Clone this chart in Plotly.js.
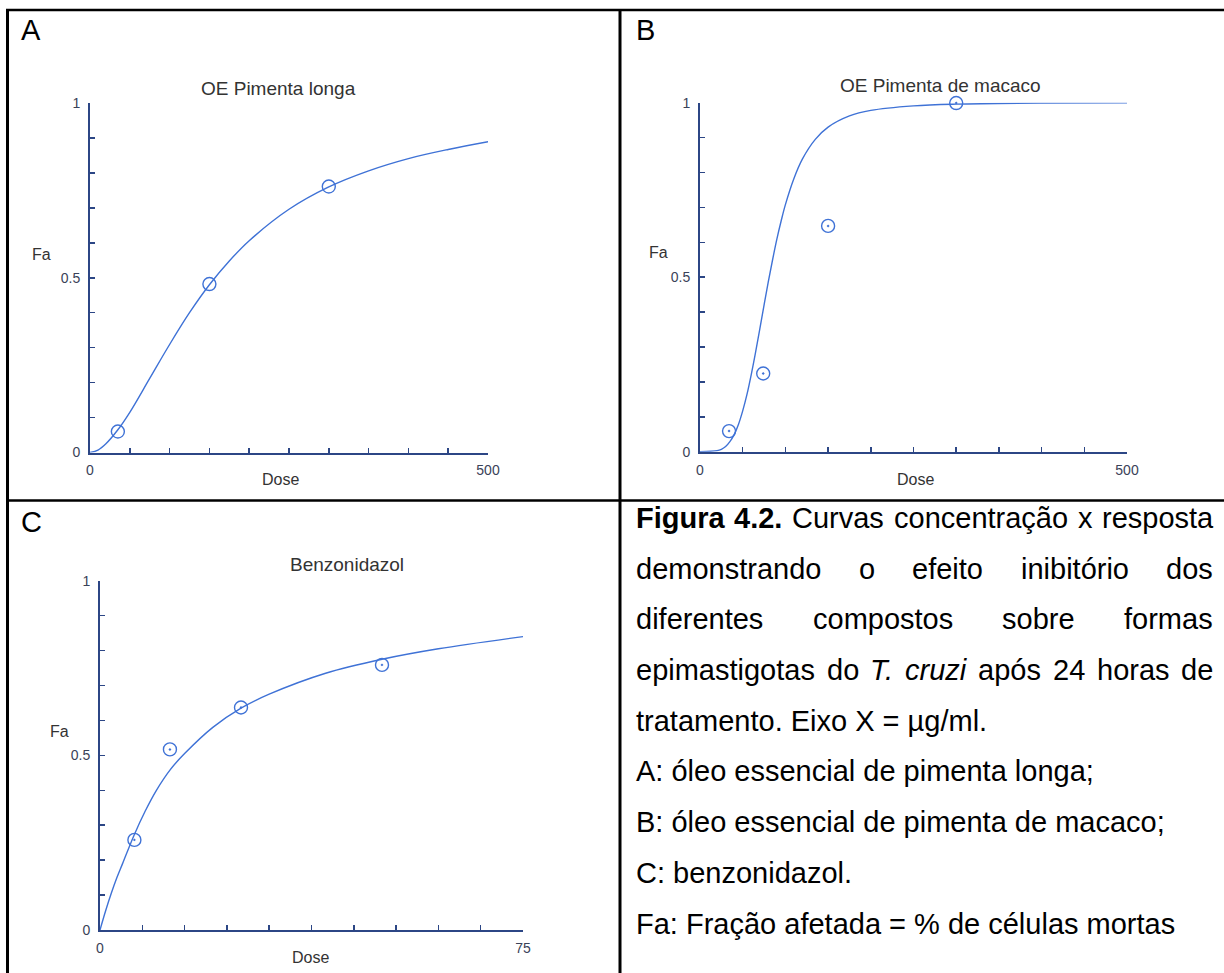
<!DOCTYPE html>
<html>
<head>
<meta charset="utf-8">
<script src="https://cdn.plot.ly/plotly-3.0.1.min.js"></script>
<style>html,body{margin:0;padding:0;background:#fff}#chart{width:1224px;height:973px}</style>
</head>
<body>
<div id="chart"></div>
<script>
// ---------------- DATA ----------------
// Panel A: OE Pimenta longa
const aPointDose = [35, 150, 300];
const aPointFa   = [0.06, 0.482, 0.761];
const aCurveDose = [0, 10, 20, 35, 50, 75, 100, 125, 150, 175, 200, 250, 300, 350, 400, 450, 500];
const aCurveFa   = [0, 0.007, 0.025, 0.065, 0.115, 0.212, 0.309, 0.400, 0.480, 0.548, 0.606, 0.696, 0.760, 0.806, 0.841, 0.867, 0.889];

// Panel B: OE Pimenta de macaco
const bPointDose = [34, 74, 150, 300];
const bPointFa   = [0.059, 0.224, 0.647, 0.999];
const bCurveDose = [0, 20, 25, 30, 35, 40, 45, 50, 55, 60, 65, 70, 75, 80, 85, 90, 95, 100, 110, 120, 135, 150, 175, 200, 250, 300, 400, 500];
const bCurveFa   = [0, 0.003, 0.007, 0.015, 0.029, 0.049, 0.078, 0.117, 0.164, 0.221, 0.284, 0.351, 0.420, 0.487, 0.550, 0.609, 0.661, 0.708, 0.783, 0.839, 0.895, 0.930, 0.962, 0.978, 0.991, 0.996, 0.999, 0.9995];

// Panel C: Benzonidazol
const cPointDose = [6.1, 12.4, 25, 50];
const cPointFa   = [0.258, 0.517, 0.637, 0.759];
const cCurveDose = [0, 1, 2, 3, 4, 6, 8, 10, 12.5, 15, 20, 25, 30, 40, 50, 60, 75];
const cCurveFa   = [0, 0.055, 0.105, 0.150, 0.190, 0.270, 0.340, 0.400, 0.460, 0.505, 0.580, 0.635, 0.675, 0.735, 0.775, 0.805, 0.840];

// Tick labels
const faTickVals = [0, 0.5, 1];
const faTickText = ['0', '0.5', '1'];
const abDoseTickVals = [0, 500];
const abDoseTickText = ['0', '500'];
const cDoseTickVals = [0, 75];
const cDoseTickText = ['0', '75'];

// Texts
const panelTitles = ['OE Pimenta longa', 'OE Pimenta de macaco', 'Benzonidazol'];
const panelLetters = ['A', 'B', 'C'];
const captionLines = [
  [{t:'Figura', b:1}, {t:'4.2.', b:1}, {t:'Curvas'}, {t:'concentração'}, {t:'x'}, {t:'resposta'}],
  [{t:'demonstrando'}, {t:'o'}, {t:'efeito'}, {t:'inibitório'}, {t:'dos'}],
  [{t:'diferentes'}, {t:'compostos'}, {t:'sobre'}, {t:'formas'}],
  [{t:'epimastigotas'}, {t:'do'}, {t:'T.', i:1}, {t:'cruzi', i:1}, {t:'após'}, {t:'24'}, {t:'horas'}, {t:'de'}],
  'tratamento. Eixo X = µg/ml.',
  'A: óleo essencial de pimenta longa;',
  'B: óleo essencial de pimenta de macaco;',
  'C: benzonidazol.',
  'Fa: Fração afetada = % de células mortas'
];

// ---------------- LAYOUT HELPERS ----------------
const W = 1224, H = 973;
const fx = x => x / W;
const fy = y => 1 - y / H;
const FONT = '"Liberation Sans", Arial, sans-serif';
const CURVE = '#3f72d6';
const AXIS = '#2c4685';
const TICKTXT = '#3a4258';
const GREY = '#333333';

const annotations = [];
function txt(text, x, baseline, size, color, xanchor) {
  annotations.push({
    xref: 'paper', yref: 'paper', x: fx(x), y: fy(baseline - 0.3465 * size),
    xanchor: xanchor || 'center', yanchor: 'middle', showarrow: false,
    borderpad: 0, borderwidth: 0,
    text: text, font: {family: FONT, size: size, color: color}
  });
}

// Panel letters
txt(panelLetters[0], 21, 40, 29, '#000', 'left');
txt(panelLetters[1], 636, 40, 29, '#000', 'left');
txt(panelLetters[2], 21, 532, 29, '#000', 'left');

// Panel titles and axis name labels
txt(panelTitles[0], 278, 95, 19, GREY);
txt(panelTitles[1], 940, 92, 19, GREY);
txt(panelTitles[2], 347, 571, 19, GREY);
txt('Fa', 41, 260, 16, GREY);
txt('Fa', 658, 258, 16, GREY);
txt('Fa', 59, 737, 16, GREY);
txt('Dose', 280, 485, 16, GREY);
txt('Dose', 915, 485, 16, GREY);
txt('Dose', 310, 963, 16, GREY);

// Caption (justified lines measured with canvas)
const CAP = 29, capLeft = 636, capRight = 1213, capBase0 = 528, capStep = 50.7;
const ctx = document.createElement('canvas').getContext('2d');
function wWidth(w) {
  ctx.font = (w.i ? 'italic ' : 'normal ') + (w.b ? 'bold ' : 'normal ') + CAP + 'px "Liberation Sans"';
  return ctx.measureText(w.t).width;
}
captionLines.forEach((line, k) => {
  const base = capBase0 + k * capStep;
  if (typeof line === 'string') { txt(line, capLeft, base, CAP, '#000', 'left'); return; }
  const widths = line.map(wWidth);
  const total = widths.reduce((s, v) => s + v, 0);
  const gap = (capRight - capLeft - total) / (line.length - 1);
  let x = capLeft;
  line.forEach((w, j) => {
    let t = w.t;
    if (w.b) t = '<b>' + t + '</b>';
    if (w.i) t = '<i>' + t + '</i>';
    txt(t, x, base, CAP, '#000', 'left');
    x += widths[j] + gap;
  });
});

// Table border lines
const shapes = [];
function seg(x0, y0, x1, y1, w) {
  shapes.push({type: 'line', xref: 'paper', yref: 'paper', x0: fx(x0), y0: fy(y0), x1: fx(x1), y1: fy(y1),
    line: {color: '#000', width: w}});
}
seg(7.5, 9, 7.5, 973, 3);
seg(6, 10, 1224, 10, 2.5);
seg(620, 9, 620, 973, 3);
seg(6, 500.5, 1224, 500.5, 2.5);

// ---------------- TRACES ----------------
function curve(x, y, xa, ya) {
  return {x: x, y: y, xaxis: xa, yaxis: ya, type: 'scatter', mode: 'lines',
    line: {color: CURVE, width: 1.4, shape: 'spline', smoothing: 1}, hoverinfo: 'skip', cliponaxis: false};
}
function pts(x, y, xa, ya, sym) {
  return {x: x, y: y, xaxis: xa, yaxis: ya, type: 'scatter', mode: 'markers', cliponaxis: false,
    marker: {symbol: sym, size: 13, color: CURVE, line: {color: CURVE, width: 1.4}}, hoverinfo: 'skip'};
}
const data = [
  curve(aCurveDose, aCurveFa, 'x', 'y'), pts(aPointDose, aPointFa, 'x', 'y', 'circle-open'),
  curve(bCurveDose, bCurveFa, 'x2', 'y2'), pts(bPointDose, bPointFa, 'x2', 'y2', 'circle-open-dot'),
  curve(cCurveDose, cCurveFa, 'x3', 'y3'), pts(cPointDose, cPointFa, 'x3', 'y3', 'circle-open-dot')
];

function xAxis(px0, px1, anchor, range, vals, text, minorStep) {
  return {domain: [fx(px0), fx(px1)], anchor: anchor, range: range, showline: true, linecolor: AXIS, linewidth: 2,
    showgrid: false, zeroline: false, ticks: 'inside', ticklen: 5, tickwidth: 1.5, tickcolor: AXIS,
    tickmode: 'array', tickvals: vals, ticktext: text, ticklabelstandoff: 4,
    tickfont: {family: FONT, size: 14, color: TICKTXT},
    minor: {tick0: 0, dtick: minorStep, ticks: 'inside', ticklen: 5, tickwidth: 1.5, tickcolor: AXIS, showgrid: false},
    fixedrange: true};
}
function yAxis(py0, py1, anchor) {
  return {domain: [fy(py0), fy(py1)], anchor: anchor, range: [0, 1], showline: true, linecolor: AXIS, linewidth: 2,
    showgrid: false, zeroline: false, ticks: 'inside', ticklen: 5, tickwidth: 1.5, tickcolor: AXIS,
    tickmode: 'array', tickvals: faTickVals, ticktext: faTickText, ticklabelstandoff: 5,
    tickfont: {family: FONT, size: 14, color: TICKTXT},
    minor: {tick0: 0, dtick: 0.1, ticks: 'inside', ticklen: 5, tickwidth: 1.5, tickcolor: AXIS, showgrid: false},
    fixedrange: true};
}

const layout = {
  width: W, height: H, margin: {l: 0, r: 0, t: 0, b: 0}, showlegend: false,
  paper_bgcolor: '#fff', plot_bgcolor: 'rgba(0,0,0,0)',
  xaxis: xAxis(90, 488, 'y', [0, 500], abDoseTickVals, abDoseTickText, 50),
  yaxis: yAxis(452.5, 103, 'x'),
  xaxis2: xAxis(700, 1127, 'y2', [0, 500], abDoseTickVals, abDoseTickText, 50),
  yaxis2: yAxis(451.7, 102.7, 'x2'),
  xaxis3: xAxis(100, 523, 'y3', [0, 75], cDoseTickVals, cDoseTickText, 7.5),
  yaxis3: yAxis(930, 580.7, 'x3'),
  annotations: annotations, shapes: shapes
};

Plotly.newPlot('chart', data, layout, {staticPlot: true, displayModeBar: false});
</script>
</body>
</html>
